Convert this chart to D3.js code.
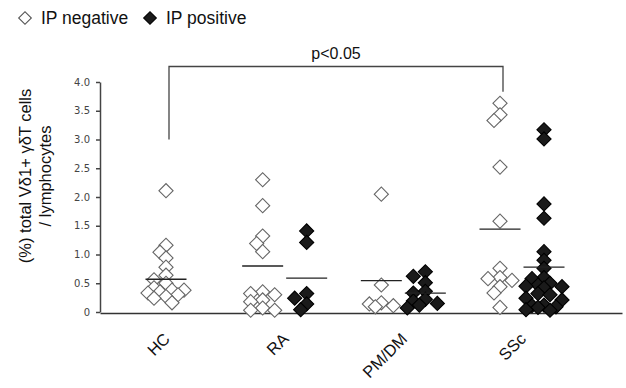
<!DOCTYPE html>
<html><head><meta charset="utf-8">
<script src="https://cdn.jsdelivr.net/npm/d3@7"></script>
<style>body{margin:0;background:#fff}svg{display:block}</style>
</head><body>
<svg id="c" width="626" height="388"></svg>
<script>
// ---- data ----
const categories = ["HC", "RA", "PM/DM", "SSc"];
const hcNegative   = [2.11, 1.16, 1.04, 0.94, 0.78, 0.64, 0.56, 0.50, 0.42, 0.38, 0.38, 0.35, 0.33, 0.30, 0.27, 0.24, 0.16];
const raNegative   = [2.30, 1.85, 1.32, 1.19, 1.05, 0.35, 0.32, 0.30, 0.21, 0.18, 0.07, 0.03, 0.03];
const raPositive   = [1.41, 1.21, 0.32, 0.24, 0.14, 0.04];
const pmdmNegative = [2.05, 0.47, 0.16, 0.14, 0.11, 0.09];
const pmdmPositive = [0.70, 0.62, 0.51, 0.36, 0.33, 0.22, 0.19, 0.15, 0.12, 0.07];
const sscNegative  = [3.63, 3.43, 3.33, 2.52, 1.58, 0.76, 0.60, 0.58, 0.55, 0.44, 0.33, 0.08];
const sscPositive  = [3.17, 3.01, 1.88, 1.63, 1.05, 0.90, 0.76, 0.60, 0.58, 0.50, 0.47, 0.45, 0.44, 0.42, 0.32, 0.30, 0.24, 0.21, 0.12, 0.11, 0.09, 0.08, 0.04, 0.03];
const lineNegative = [0.57, 0.80, 0.545, 1.44];
const linePositive = [null, 0.59, 0.33, 0.78];
const yTicks = [0, 0.5, 1.0, 1.5, 2.0, 2.5, 3.0, 3.5, 4.0];
const yTickLabels = ["0", "0.5", "1.0", "1.5", "2.0", "2.5", "3.0", "3.5", "4.0"];
const legendLabels = ["IP negative", "IP positive"];
const yTitleLines = ["(%) total V\u03b41+ \u03b3\u03b4T cells", "/ lymphocytes"];
const pLabel = "p<0.05";
const bracketLeftBottom = 3.0, bracketRightBottom = 3.83, bracketTop = 4.27;

const groups = [
  {cat: "HC", pos: false, values: hcNegative},
  {cat: "RA", pos: false, values: raNegative},
  {cat: "RA", pos: true, values: raPositive},
  {cat: "PM/DM", pos: false, values: pmdmNegative},
  {cat: "PM/DM", pos: true, values: pmdmPositive},
  {cat: "SSc", pos: false, values: sscNegative},
  {cat: "SSc", pos: true, values: sscPositive}
];

// ---- layout ----
const svg = d3.select("#c");
const font = "'Liberation Sans', Arial, sans-serif";
const x = d3.scalePoint().domain(categories).range([166, 522]);
const y = d3.scaleLinear().domain([0, 4]).range([312, 82]);
const pairOff = 22;
const subX = (cat, pos) => x(cat) + (cat === "HC" ? 0 : (pos ? pairOff : -pairOff));

// y axis
const yAxis = d3.axisLeft(y).tickValues(yTicks)
  .tickFormat((d, i) => yTickLabels[i]).tickSize(4).tickPadding(6).tickSizeOuter(0);
const ga = svg.append("g").attr("transform", "translate(100,0)").call(yAxis);
ga.select(".domain").attr("stroke", "#444").attr("stroke-width", 1.5);
ga.selectAll(".tick line").attr("stroke", "#444").attr("stroke-width", 1.5);
ga.selectAll(".tick text").attr("font-family", "'DejaVu Sans', Verdana, sans-serif")
  .attr("font-size", 10).attr("fill", "#444");

// x axis line
const xAxis = d3.axisBottom(d3.scaleLinear().domain([0, 1]).range([100, 622])).tickValues([]).tickSizeOuter(0);
const gx = svg.append("g").attr("transform", `translate(0,${y(0) + 1})`).call(xAxis);
gx.select(".domain").attr("stroke", "#333").attr("stroke-width", 1.5);

// x labels
svg.append("g").selectAll("text").data(categories).join("text")
  .attr("transform", d => `translate(${x(d) + 5},340) rotate(-45)`)
  .attr("text-anchor", "end")
  .attr("font-family", font).attr("font-size", 16.5).attr("fill", "#111")
  .text(d => d);

// y title
const yt = svg.append("g").attr("transform", "translate(0,176) rotate(-90)");
yt.selectAll("text").data(yTitleLines).join("text")
  .attr("x", 0).attr("y", (d, i) => 31 + i * 20)
  .attr("text-anchor", "middle")
  .attr("font-family", font).attr("font-size", 16.5).attr("fill", "#111")
  .text(d => d);

// bracket
const bx1 = subX("HC", false) + 3, bx2 = subX("SSc", false) + 3;
svg.append("path")
  .attr("d", `M${bx1},${y(bracketLeftBottom)}V${y(bracketTop)}H${bx2}V${y(bracketRightBottom)}`)
  .attr("fill", "none").attr("stroke", "#444").attr("stroke-width", 1.3);
svg.append("text").attr("x", (bx1 + bx2) / 2).attr("y", 59)
  .attr("text-anchor", "middle").attr("font-family", font).attr("font-size", 16).attr("fill", "#111")
  .text(pLabel);

// dodge layout (compact, overlapping beeswarm)
function dodge(values, cx) {
  const placed = [];
  const sorted = values.slice().sort((a, b) => b - a);
  const step = 6, minD = 8, maxK = 7;
  for (const v of sorted) {
    const py = y(v);
    let best = null, bestScore = -1;
    for (let k = 0; k < maxK; k++) {
      const off = k === 0 ? 0 : (k % 2 ? -1 : 1) * Math.ceil(k / 2) * step;
      const px = cx + off;
      const dmin = placed.length ? d3.min(placed, p => Math.hypot(p.x - px, p.y - py)) : Infinity;
      if (dmin >= minD) { best = px; break; }
      if (dmin > bestScore) { bestScore = dmin; best = px; }
    }
    placed.push({x: best, y: py, v});
  }
  return placed;
}

const diamond = d3.symbol().type(d3.symbolSquare).size(100);

// horizontal lines
const lines = [];
categories.forEach((c, i) => {
  lines.push({cat: c, pos: false, v: lineNegative[i]});
  if (linePositive[i] != null) lines.push({cat: c, pos: true, v: linePositive[i]});
});

groups.forEach(g => {
  const pts = dodge(g.values, subX(g.cat, g.pos));
  svg.append("g").selectAll("path").data(pts).join("path")
    .attr("d", diamond)
    .attr("transform", d => `translate(${d.x},${d.y}) rotate(45)`)
    .attr("fill", g.pos ? "#1a1a1a" : "#fff")
    .attr("stroke", g.pos ? "#000" : "#666")
    .attr("stroke-width", 1.1);
});

svg.append("g").selectAll("line").data(lines).join("line")
  .attr("x1", d => subX(d.cat, d.pos) - 20.5)
  .attr("x2", d => subX(d.cat, d.pos) + 20.5)
  .attr("y1", d => y(d.v)).attr("y2", d => y(d.v))
  .attr("stroke", "#222").attr("stroke-width", 1.3);

// legend
const leg = svg.append("g");
const legX = [25, 150];
legendLabels.forEach((t, i) => {
  leg.append("path").attr("d", d3.symbol().type(d3.symbolSquare).size(80))
    .attr("transform", `translate(${legX[i]},18) rotate(45)`)
    .attr("fill", i ? "#1a1a1a" : "#fff").attr("stroke", i ? "#000" : "#555").attr("stroke-width", 1.1);
  leg.append("text").attr("x", legX[i] + 16).attr("y", 24)
    .attr("font-family", font).attr("font-size", 17.5).attr("fill", "#111").text(t);
});
</script>
</body></html>
